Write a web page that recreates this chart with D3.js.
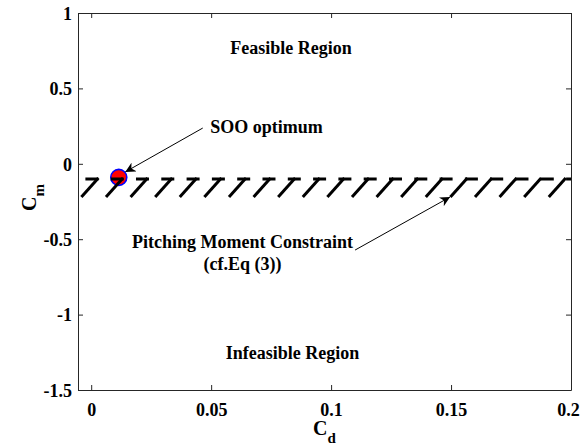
<!DOCTYPE html>
<html>
<head>
<meta charset="utf-8">
<script src="https://cdn.jsdelivr.net/npm/d3@7"></script>
<style>
  body { margin: 0; background: #fff; }
  text { font-family: "Liberation Serif", "Times New Roman", serif; font-weight: bold; fill: #000; }
</style>
</head>
<body>
<div id="chart"></div>
<script>
// axis setup
const xDomain = [-0.0055, 0.2];
const yDomain = [-1.5, 1];
const xTicks = [0, 0.05, 0.1, 0.15, 0.2];
const yTicks = [-1.5, -1, -0.5, 0, 0.5, 1];
const xTickLabels = ['0', '0.05', '0.1', '0.15', '0.2'];
const yTickLabels = ['-1.5', '-1', '-0.5', '0', '0.5', '1'];

// constraint line Cm = -0.1
const constraintCd = [-0.0055, 0.2];
const constraintCm = [-0.1, -0.1];

// single objective optimum
const optimumCd = [0.0115];
const optimumCm = [-0.09];

// annotations: text positions and arrows [tail, head] in data units
const regionLabels = ['Feasible Region', 'Infeasible Region'];
const regionCd = [0.0833, 0.0839];
const regionCm = [0.77, -1.25];

const sooText = 'SOO optimum';
const sooTextPos = [0.0496, 0.244];
const sooArrow = [[0.0465, 0.237], [0.0142, -0.054]];

const pmText = ['Pitching Moment Constraint', '(cf.Eq (3))'];
const pmTextPos = [0.0631, -0.519];
const pmArrow = [[0.110, -0.572], [0.1496, -0.22]];

const width = 581, height = 446;
const margin = { top: 13, right: 10, bottom: 56, left: 78 };

const svg = d3.select('#chart').append('svg')
    .attr('width', width)
    .attr('height', height);

const x = d3.scaleLinear().domain(xDomain).range([margin.left, width - margin.right]);
const y = d3.scaleLinear().domain(yDomain).range([height - margin.bottom, margin.top]);

const axisColor = '#262626';

// clip for plot area
svg.append('clipPath').attr('id', 'plot-clip')
    .append('rect')
    .attr('x', margin.left).attr('y', margin.top)
    .attr('width', x.range()[1] - x.range()[0])
    .attr('height', y.range()[0] - y.range()[1]);

const plot = svg.append('g').attr('clip-path', 'url(#plot-clip)');

// marker first, the dashed line sits on top of it
plot.selectAll('circle.opt')
    .data(optimumCd)
    .enter().append('circle')
    .attr('class', 'opt')
    .attr('cx', d => x(d))
    .attr('cy', (d, i) => y(optimumCm[i]))
    .attr('r', 8)
    .attr('fill', '#ff0000')
    .attr('stroke', '#0000ff')
    .attr('stroke-width', 1.6);

// hatches under the constraint line
const hatchStep = 24.6;
const hatchStart = x(0.003);
const hatchX = d3.range(hatchStart, x.range()[1] + 1, hatchStep);
plot.selectAll('line.hatch')
    .data(hatchX)
    .enter().append('line')
    .attr('class', 'hatch')
    .attr('x1', d => d)
    .attr('y1', y(constraintCm[0]) - 1)
    .attr('x2', d => d - 17)
    .attr('y2', y(constraintCm[0]) + 18)
    .attr('stroke', '#000')
    .attr('stroke-width', 3);

const line = d3.line().x(d => x(d[0])).y(d => y(d[1]));
plot.append('path')
    .datum(constraintCd.map((d, i) => [d, constraintCm[i]]))
    .attr('d', line)
    .attr('fill', 'none')
    .attr('stroke', '#000')
    .attr('stroke-width', 3)
    .attr('stroke-dasharray', '13,12.3')
    .attr('stroke-dashoffset', -(x(0.003) - 13 - x.range()[0]));

// axes box with inward ticks on all sides
const tickLen = 5;
svg.append('g')
    .attr('transform', `translate(0,${y.range()[0]})`)
    .call(d3.axisBottom(x).tickValues(xTicks).tickSizeInner(-tickLen).tickSizeOuter(0).tickFormat((d, i) => xTickLabels[i]))
    .call(g => g.selectAll('text').attr('dy', null).attr('y', 26)
        .attr('dx', (d, i) => i === xTicks.length - 1 ? -3 : 0)
        .style('font-size', '18px').style('font-family', '"Liberation Serif", serif').style('font-weight', 'bold').attr('fill', '#000'));
svg.append('g')
    .attr('transform', `translate(0,${y.range()[1]})`)
    .call(d3.axisTop(x).tickValues(xTicks).tickSizeInner(-tickLen).tickSizeOuter(0).tickFormat(''));
svg.append('g')
    .attr('transform', `translate(${x.range()[0]},0)`)
    .call(d3.axisLeft(y).tickValues(yTicks).tickSizeInner(-tickLen).tickSizeOuter(0).tickFormat((d, i) => yTickLabels[i]))
    .call(g => g.selectAll('text').attr('x', -6).attr('dy', '0.35em').style('font-size', '18px').style('font-family', '"Liberation Serif", serif').style('font-weight', 'bold').attr('fill', '#000'));
svg.append('g')
    .attr('transform', `translate(${x.range()[1]},0)`)
    .call(d3.axisRight(y).tickValues(yTicks).tickSizeInner(-tickLen).tickSizeOuter(0).tickFormat(''));

svg.selectAll('.domain').attr('stroke', axisColor);
svg.selectAll('.tick line').attr('stroke', axisColor);

// axis titles
const xTitle = svg.append('text')
    .attr('x', (x.range()[0] + x.range()[1]) / 2)
    .attr('y', 435)
    .attr('text-anchor', 'middle')
    .style('font-size', '20px');
xTitle.append('tspan').text('C');
xTitle.append('tspan').attr('dy', 8).style('font-size', '15px').text('d');

const yTitle = svg.append('text')
    .attr('transform', `translate(36,${(y.range()[0] + y.range()[1]) / 2 - 4}) rotate(-90)`)
    .attr('text-anchor', 'middle')
    .style('font-size', '20px');
yTitle.append('tspan').text('C');
yTitle.append('tspan').attr('dy', 8).style('font-size', '15px').text('m');

// region labels
svg.selectAll('text.region')
    .data(regionLabels)
    .enter().append('text')
    .attr('class', 'region')
    .attr('x', (d, i) => x(regionCd[i]))
    .attr('y', (d, i) => y(regionCm[i]))
    .attr('dy', '0.35em')
    .attr('text-anchor', 'middle')
    .style('font-size', '18px')
    .text(d => d);

// arrowhead
svg.append('defs').append('marker')
    .attr('id', 'head')
    .attr('viewBox', '0 0 10 10')
    .attr('refX', 10).attr('refY', 5)
    .attr('markerWidth', 10).attr('markerHeight', 10)
    .attr('markerUnits', 'userSpaceOnUse')
    .attr('orient', 'auto')
    .append('path')
    .attr('d', 'M0,0 L10,5 L0,10 L3,5 Z')
    .attr('fill', '#000');

svg.selectAll('line.arrow')
    .data([sooArrow, pmArrow])
    .enter().append('line')
    .attr('class', 'arrow')
    .attr('x1', d => x(d[0][0]))
    .attr('y1', d => y(d[0][1]))
    .attr('x2', d => x(d[1][0]))
    .attr('y2', d => y(d[1][1]))
    .attr('stroke', '#000')
    .attr('stroke-width', 1)
    .attr('marker-end', 'url(#head)');

svg.append('text')
    .attr('x', x(sooTextPos[0]))
    .attr('y', y(sooTextPos[1]))
    .attr('dy', '0.35em')
    .style('font-size', '18px')
    .text(sooText);

svg.selectAll('text.pm')
    .data(pmText)
    .enter().append('text')
    .attr('class', 'pm')
    .attr('x', x(pmTextPos[0]))
    .attr('y', (d, i) => y(pmTextPos[1]) + i * 22)
    .attr('dy', '0.35em')
    .attr('text-anchor', 'middle')
    .style('font-size', '18px')
    .text(d => d);
</script>
</body>
</html>
